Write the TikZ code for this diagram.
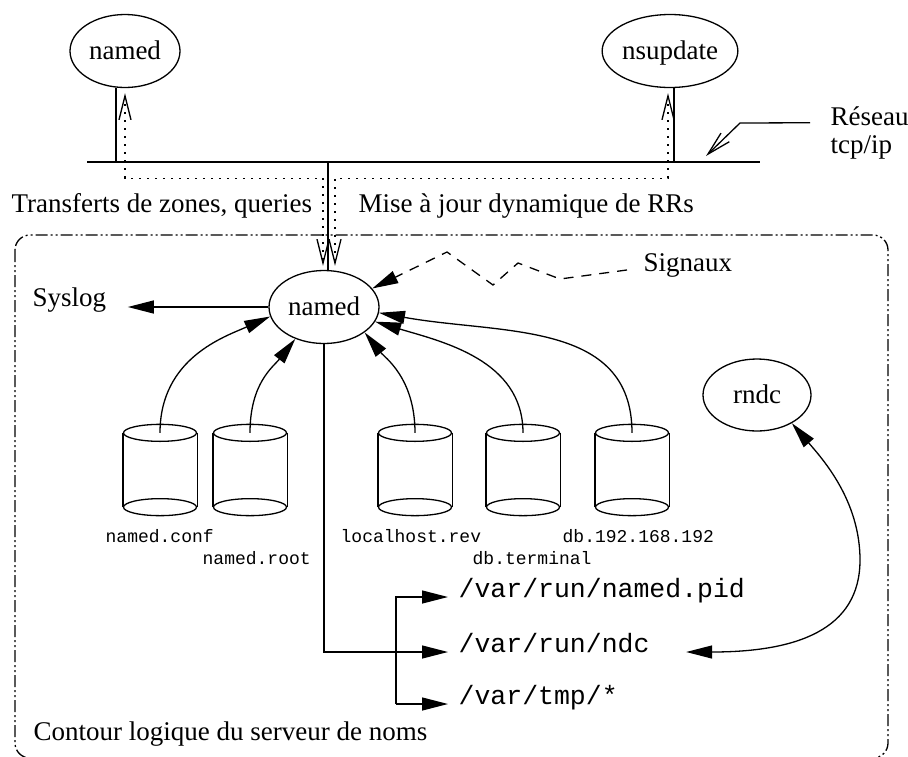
\documentclass[tikz,border=0pt]{standalone}
\usepackage{fontspec}
\setmainfont{Liberation Serif}
\setmonofont{Liberation Mono}
\usetikzlibrary{arrows.meta,shapes.geometric,calc}
\newcommand\txtbig{\fontsize{27}{31}\selectfont}
\newcommand\monosmall{\ttfamily\fontsize{18}{21}\selectfont}
\newcommand\monobig{\ttfamily\fontsize{26.5}{30}\selectfont}
\begin{document}
\begin{tikzpicture}[x=1pt,y=-1pt, line width=1.3pt,
  >={Triangle[length=26pt,width=13pt]},
  ell/.style={draw, ellipse, minimum width=110pt, minimum height=73pt, inner sep=0pt, font=\txtbig, text height=17pt, text depth=0pt},
  lbl/.style={font=\txtbig, inner sep=0pt, anchor=base west},
  fname/.style={font=\monosmall, inner sep=0pt, anchor=base west},
  pname/.style={font=\monobig, inner sep=0pt, anchor=base west},
  cyl/.style={minimum width=73pt, minimum height=90pt, inner sep=0pt},
  dots/.style={dash pattern=on 2pt off 6pt},
  sigline/.style={dash pattern=on 10pt off 8pt},
  border/.style={dash pattern=on 12pt off 3pt on 2pt off 3pt on 2pt off 3pt, rounded corners=15pt}
]
\useasboundingbox (0,0) rectangle (908,756);

% top hosts
\node[ell] (n1) at (125,51) {named};
\node[ell] (n2) at (670,51) {nsupdate};
% network
\coordinate (netL) at (87,162);
\coordinate (netR) at (760,162);
\draw (netL) -- (netR);
\node[lbl] (res1) at (830,125) {Réseau};
\node[lbl] (res2) at (830,153) {tcp/ip};
\coordinate (netp) at (706,156);
\draw[{Straight Barb[length=24pt,width=12pt]}-] (netp) -- (740,123) -- ([xshift=-20pt,yshift=-7pt]res1.west);

% central named
\node[ell] (n) at (324,307) {named};
\draw ([xshift=-9pt]n1.south) -- ([xshift=-9pt]n1.south |- netL);
\draw ([xshift=4pt]n2.south) -- ([xshift=4pt]n2.south |- netL);
\draw ([xshift=4pt]n.north |- netL) -- ([xshift=4pt]n.north);

% dotted flows
\draw[dots, {Straight Barb[length=24pt,width=12pt]}-{Straight Barb[length=24pt,width=12pt]}]
  ([yshift=-5pt]n1.south) -- ++(0,85) -| ([xshift=-1pt,yshift=4pt]n.north);
\draw[dots, {Straight Barb[length=24pt,width=12pt]}-{Straight Barb[length=24pt,width=12pt]}]
  ([xshift=-2pt,yshift=-5pt]n2.south) -- ++(0,85) -| ([xshift=11pt,yshift=4pt]n.north);

\node[lbl] (tz) at (11,212) {Transferts de zones, queries};
\node[lbl] (mj) at (358,212) {Mise à jour dynamique de RRs};

% logical boundary
\draw[border] (15,235) rectangle (888,758);
\node[lbl] (cont) at (33,740) {Contour logique du serveur de noms};

% syslog
\node[lbl] (syslog) at (32,306) {Syslog};
\draw[->] (n.west) -- ([xshift=21pt]syslog.east |- n.west);

% signals
\node[lbl] (sig) at (643,271) {Signaux};
\draw[sigline,->] ([xshift=-16pt,yshift=-5pt]sig.west) -- (560,279) -- (518,263) -- (493,285) -- (447,252) -- (n.21);

% cylinders
\node[cyl] (c1) at (160,470) {};
\node[cyl] (c2) at (250,470) {};
\node[cyl] (c3) at (415,470) {};
\node[cyl] (c4) at (523,470) {};
\node[cyl] (c5) at (632,470) {};
\foreach \c in {c1,c2,c3,c4,c5}{
  \draw ([yshift=-8.5pt]\c.north west) -- ([yshift=8.5pt]\c.south west)
        ([yshift=-8.5pt]\c.north east) -- ([yshift=8.5pt]\c.south east);
  \draw ([yshift=-8.5pt]\c.north) ellipse [x radius=36.5pt, y radius=8.5pt];
  \draw ([yshift=8.5pt]\c.south) ellipse [x radius=36.5pt, y radius=8.5pt];
}
\node[fname] (l1) at (105,542) {named.conf};
\node[fname] (l2) at (202,564) {named.root};
\node[fname] (l3) at (340,542) {localhost.rev};
\node[fname] (l4) at (472,564) {db.terminal};
\node[fname] (l5) at (562,542) {db.192.168.192};

\draw[->] ([yshift=-8.5pt]c1.north) .. controls +(0,-75) and +(-45,20) .. (n.190);
\draw[->] ([yshift=-8.5pt]c2.north) .. controls +(0,-50) and +(-22,28) .. (n.228);
\draw[->] ([yshift=-8.5pt]c3.north) .. controls +(0,-55) and +(20,25) .. (n.-32);
\draw[->] ([yshift=-8.5pt]c4.north) .. controls +(0,-73) and +(67,20) .. (n.-16);
\draw[->] ([yshift=-8.5pt]c5.north) .. controls +(0,-113) and +(122,22) .. (n.-6);

% files
\node[pname] (ppid) at (458,597) {/var/run/named.pid};
\node[pname] (pndc) at (458,652) {/var/run/ndc};
\node[pname] (ptmp) at (458,704) {/var/tmp/*};
\draw[->] (n.south) |- ([xshift=-10pt]pndc.base west);
\draw[->] ([xshift=-62pt]ptmp.base west) |- ([xshift=-10pt]ppid.base west);
\draw[->] ([xshift=-62pt]ptmp.base west) -- ([xshift=-10pt]ptmp.base west);

% rndc
\node[ell, minimum width=108pt, minimum height=72pt] (rndc) at (757,395) {rndc};
\draw[<->] ([xshift=36pt]pndc.base east) .. controls +(110,0) and +(0,70) .. (860,560)
  .. controls +(0,-60) and +(30,35) .. (rndc.-39);
\end{tikzpicture}
\end{document}
